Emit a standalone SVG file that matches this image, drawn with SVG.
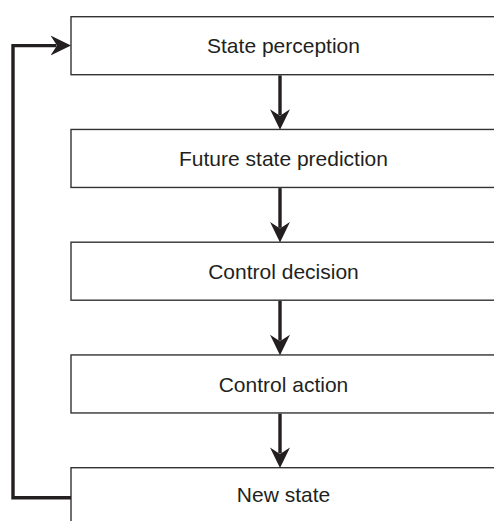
<svg xmlns="http://www.w3.org/2000/svg" width="494" height="521" viewBox="0 0 494 521">
  <defs>
    <style>
      .box { fill: #ffffff; stroke: #333333; stroke-width: 1.4; }
      .label { font-family: "Liberation Sans", Arial, sans-serif; font-size: 21px; fill: #231f20; text-anchor: middle; }
      .conn { fill: none; stroke: #231f20; stroke-width: 3.4; }
    </style>
    <!-- barbed arrowhead; the line ends at the notch (refX=6) -->
    <marker id="arrow" markerUnits="userSpaceOnUse" markerWidth="21" markerHeight="21" viewBox="0 0 21 21" refX="6" refY="10.5" orient="auto">
      <path d="M0,0.5 L20.5,10.5 L0,20.5 L6.5,10.5 Z" fill="#231f20"/>
    </marker>
  </defs>

  <rect width="494" height="521" fill="#ffffff"/>

  <g id="state-perception">
    <rect class="box" x="71" y="16.7" width="440" height="58"/>
    <text class="label" x="283.5" y="53.3">State perception</text>
  </g>

  <g id="future-state-prediction">
    <rect class="box" x="71" y="129.45" width="440" height="58"/>
    <text class="label" x="283.5" y="166">Future state prediction</text>
  </g>

  <g id="control-decision">
    <rect class="box" x="71" y="242.2" width="440" height="58"/>
    <text class="label" x="283.5" y="278.7">Control decision</text>
  </g>

  <g id="control-action">
    <rect class="box" x="71" y="354.95" width="440" height="58"/>
    <text class="label" x="283.5" y="391.5">Control action</text>
  </g>

  <g id="new-state">
    <rect class="box" x="71" y="467.7" width="440" height="70"/>
    <text class="label" x="283.5" y="502">New state</text>
  </g>

  <g id="connectors">
    <path class="conn" d="M280,75.4 V115.2" marker-end="url(#arrow)"/>
    <path class="conn" d="M280,188.15 V227.9" marker-end="url(#arrow)"/>
    <path class="conn" d="M280,300.9 V340.7" marker-end="url(#arrow)"/>
    <path class="conn" d="M280,413.65 V453.4" marker-end="url(#arrow)"/>
    <path class="conn" d="M71,497.8 H13 V45.6 H56.5" marker-end="url(#arrow)"/>
  </g>
</svg>
